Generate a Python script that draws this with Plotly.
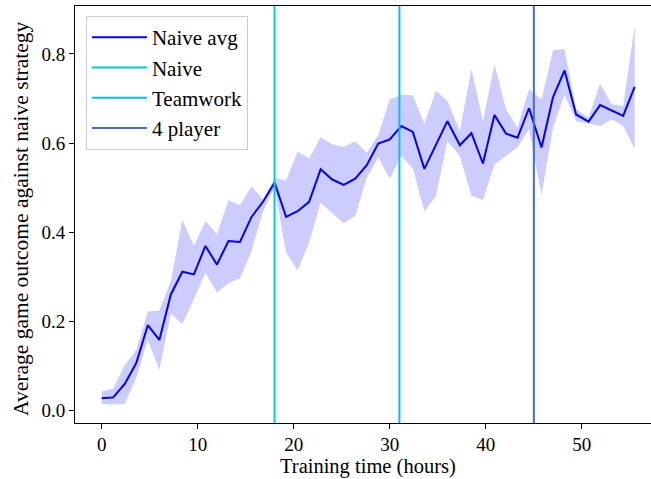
import plotly.graph_objects as go

hours = [0.0, 1.2, 2.4, 3.6, 4.8, 6.0, 7.2, 8.4, 9.6, 10.8, 12.0, 13.2, 14.4, 15.6,
         16.8, 18.0, 19.2, 20.4, 21.6, 22.8, 24.0, 25.2, 26.4, 27.6, 28.8, 30.0,
         31.2, 32.4, 33.6, 34.8, 36.0, 37.3, 38.5, 39.7, 40.9, 42.1, 43.3, 44.5,
         45.8, 47.0, 48.2, 49.4, 50.7, 51.9, 53.1, 54.3, 55.5]

naive_avg = [0.027, 0.029, 0.059, 0.106, 0.191, 0.158, 0.260, 0.311, 0.305, 0.369,
             0.327, 0.380, 0.378, 0.434, 0.468, 0.511, 0.434, 0.447, 0.468, 0.541,
             0.518, 0.506, 0.520, 0.550, 0.599, 0.608, 0.638, 0.625, 0.542, 0.597,
             0.649, 0.595, 0.622, 0.554, 0.663, 0.621, 0.612, 0.678, 0.590, 0.703,
             0.763, 0.664, 0.648, 0.685, 0.673, 0.661, 0.726]

upper = [0.042, 0.049, 0.101, 0.136, 0.222, 0.224, 0.290, 0.428, 0.369, 0.425,
         0.395, 0.472, 0.460, 0.503, 0.473, 0.522, 0.516, 0.581, 0.565, 0.613,
         0.597, 0.591, 0.604, 0.578, 0.618, 0.698, 0.708, 0.707, 0.643, 0.717,
         0.694, 0.627, 0.766, 0.649, 0.777, 0.676, 0.634, 0.721, 0.698, 0.808,
         0.811, 0.676, 0.657, 0.733, 0.687, 0.683, 0.863]

lower = [0.014, 0.013, 0.014, 0.073, 0.157, 0.091, 0.217, 0.193, 0.249, 0.309,
         0.264, 0.286, 0.296, 0.357, 0.447, 0.500, 0.354, 0.314, 0.376, 0.466,
         0.443, 0.420, 0.436, 0.522, 0.567, 0.520, 0.571, 0.543, 0.446, 0.481,
         0.604, 0.571, 0.481, 0.472, 0.552, 0.571, 0.590, 0.631, 0.483, 0.634,
         0.709, 0.649, 0.643, 0.638, 0.653, 0.638, 0.587]

marker_names = ["Naive", "Teamwork", "4 player"]
marker_hours = [18, 31, 45]
marker_colors = ["#00CED1", "#00BFFF", "#4169E1"]

x_ticks = [0, 10, 20, 30, 40, 50]
y_ticks = [0.0, 0.2, 0.4, 0.6, 0.8]
x_range = [-2.78, 57.2]
y_range = [-0.0285, 0.9075]

FONT = "Liberation Serif, DejaVu Serif, serif"

fig = go.Figure()

# shaded band
fig.add_trace(go.Scatter(x=hours, y=upper, mode="lines", line=dict(width=0),
                         showlegend=False, hoverinfo="skip"))
fig.add_trace(go.Scatter(x=hours, y=lower, mode="lines", line=dict(width=0),
                         fill="tonexty", fillcolor="rgba(0,0,255,0.2)",
                         showlegend=False, hoverinfo="skip"))

fig.add_trace(go.Scatter(x=hours, y=naive_avg, mode="lines", name="Naive avg",
                         line=dict(color="#0000FF", width=2)))

for name, h, c in zip(marker_names, marker_hours, marker_colors):
    fig.add_trace(go.Scatter(x=[h, h], y=y_range, mode="lines", name=name,
                             line=dict(color=c, width=2)))

fig.update_layout(
    width=651, height=479,
    margin=dict(l=75, r=0, t=6, b=56),
    paper_bgcolor="white", plot_bgcolor="white",
    font=dict(family=FONT, size=19, color="black"),
    showlegend=True,
    legend=dict(x=0.019, y=0.976, xanchor="left", yanchor="top",
                traceorder="normal",
                bgcolor="rgba(255,255,255,0.8)", bordercolor="#cccccc",
                borderwidth=1, font=dict(size=21), tracegroupgap=0,
                itemwidth=55),
    annotations=[
        dict(text="Training time (hours)", xref="paper", yref="paper",
             x=0.5087, y=-0.105, xanchor="center", yanchor="middle",
             showarrow=False, font=dict(size=20.5)),
        dict(text="Average game outcome against naive strategy",
             xref="paper", yref="paper", x=-0.094, y=0.489, textangle=-90,
             xanchor="center", yanchor="middle", showarrow=False,
             font=dict(size=21.5)),
    ],
)

fig.update_xaxes(range=x_range, tickvals=x_ticks,
                 showgrid=False, zeroline=False, showline=True,
                 linecolor="black", linewidth=1, mirror=True,
                 ticks="outside", ticklen=5, tickcolor="black",
                 ticklabelstandoff=-1)
fig.update_yaxes(range=y_range, tickvals=y_ticks, tickformat=".1f",
                 showgrid=False, zeroline=False, showline=True,
                 linecolor="black", linewidth=1, mirror=False,
                 ticks="outside", ticklen=5, tickcolor="black")

fig.write_html("out.html", config={"displayModeBar": False},
               post_script="document.body.style.margin='0';")
